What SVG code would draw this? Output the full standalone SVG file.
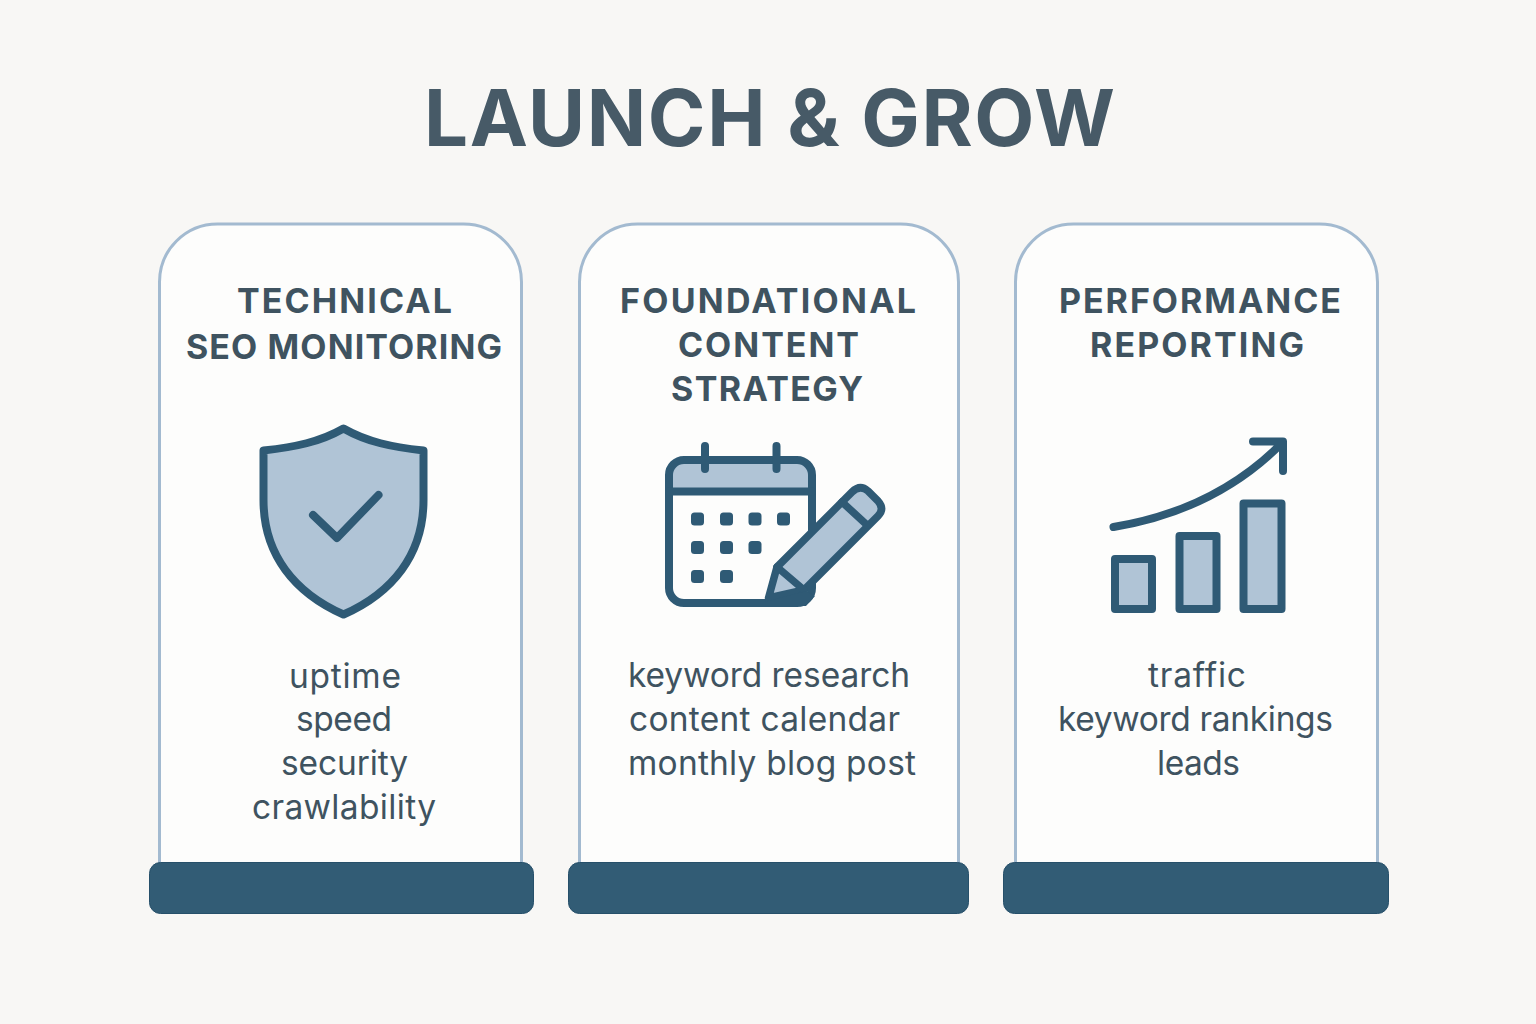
<svg xmlns="http://www.w3.org/2000/svg" width="1536" height="1024" viewBox="0 0 1536 1024">
<style>
text{font-family:"Inter","Noto Sans",sans-serif;text-anchor:middle}
.t{font-size:78px;font-weight:700;fill:#475a67}
.h{font-size:34px;font-weight:700;fill:#3f5360}
.b{font-size:33.500px;font-weight:400;fill:#3f5360}
.card{fill:#fdfdfc;stroke:#a3bad0;stroke-width:3}
.base{fill:#325c75;stroke:#27506a;stroke-width:1}
.i{stroke:#2f5a75;stroke-width:8;stroke-linejoin:round;stroke-linecap:round}
.p{stroke-width:7.500}
.lf{fill:#b0c4d6}
.nf{fill:none}
.wf{fill:#fdfdfc}
.d{fill:#2f5a75}
</style>
<rect width="1536" height="1024" fill="#f8f7f5"/>
<text class="t" x="769.500" y="146" textLength="691">LAUNCH &amp; GROW</text>
<g id="card-technical">
<path class="card" d="M159.500 864V282A58 58 0 0 1 217.500 224H463.500A58 58 0 0 1 521.500 282V864"/>
<rect class="base" x="149.500" y="862.500" width="384" height="51" rx="11"/>
<text class="h" x="344.500" y="313" textLength="215">TECHNICAL</text>
<text class="h" x="344" y="359" textLength="316">SEO MONITORING</text>
<path class="i lf" d="M343.500 428.500C320 442 295 447 263.500 450.500V500C263.500 555 295 593 343.500 614.500C392 593 423.500 555 423.500 500V450.500C392 447 367 442 343.500 428.500Z"/>
<path class="i nf" d="M313 515L337 538L378.500 495"/>
<text class="b" x="345" y="688" textLength="112">uptime</text>
<text class="b" x="344" y="731" textLength="96">speed</text>
<text class="b" x="344.500" y="775" textLength="127">security</text>
<text class="b" x="344" y="819" textLength="184">crawlability</text>
</g>
<g id="card-content">
<path class="card" d="M579.500 864V282A58 58 0 0 1 637.500 224H900.500A58 58 0 0 1 958.500 282V864"/>
<rect class="base" x="568.500" y="862.500" width="400" height="51" rx="11"/>
<text class="h" x="768" y="313" textLength="296">FOUNDATIONAL</text>
<text class="h" x="768.500" y="357" textLength="181">CONTENT</text>
<text class="h" x="767" y="401" textLength="192">STRATEGY</text>
<rect class="wf" x="669" y="460" width="143" height="143" rx="15"/>
<path class="lf" d="M669 489V475A15 15 0 0 1 684 460H797A15 15 0 0 1 812 475V489Z"/>
<rect class="i nf" x="669" y="460" width="143" height="143" rx="15"/>
<path class="i nf" d="M669 491.500H812M705 446V469M776.500 446V469"/>
<g class="d">
<rect x="691" y="512.500" width="13" height="13" rx="3.500"/><rect x="720" y="512.500" width="13" height="13" rx="3.500"/><rect x="748.500" y="512.500" width="13" height="13" rx="3.500"/><rect x="777" y="512.500" width="13" height="13" rx="3.500"/>
<rect x="691" y="541" width="13" height="13" rx="3.500"/><rect x="720" y="541" width="13" height="13" rx="3.500"/><rect x="748.500" y="541" width="13" height="13" rx="3.500"/>
<rect x="691" y="570" width="13" height="13" rx="3.500"/><rect x="720" y="570" width="13" height="13" rx="3.500"/>
</g>
<path class="i p lf" d="M768.500 598L777 567L852 492Q860 484 868 491L878 501Q885 509 878 516L804 590Z"/>
<path class="i p nf" d="M777 567L804 590M842 502L867 525"/>
<path class="d" d="M764 602L806 591L815 596L806 606H764Z"/>
<text class="b" x="769" y="687" textLength="282">keyword research</text>
<text class="b" x="764.500" y="731" textLength="271">content calendar</text>
<text class="b" x="772" y="775" textLength="288">monthly blog post</text>
</g>
<g id="card-reporting">
<path class="card" d="M1015.500 864V282A58 58 0 0 1 1073.500 224H1319.500A58 58 0 0 1 1377.500 282V864"/>
<rect class="base" x="1003.500" y="862.500" width="385" height="51" rx="11"/>
<text class="h" x="1200" y="313" textLength="282">PERFORMANCE</text>
<text class="h" x="1197" y="357" textLength="214">REPORTING</text>
<rect class="i lf" x="1115" y="559" width="37" height="50"/>
<rect class="i lf" x="1179.500" y="536" width="37" height="73"/>
<rect class="i lf" x="1243.500" y="503.500" width="38" height="105.500"/>
<path class="i nf" d="M1113.500 527C1180 516 1235 490 1281 444M1253 441.500H1283V471"/>
<text class="b" x="1197" y="687" textLength="98">traffic</text>
<text class="b" x="1195.500" y="731" textLength="275">keyword rankings</text>
<text class="b" x="1198.500" y="775" textLength="83">leads</text>
</g>
</svg>
